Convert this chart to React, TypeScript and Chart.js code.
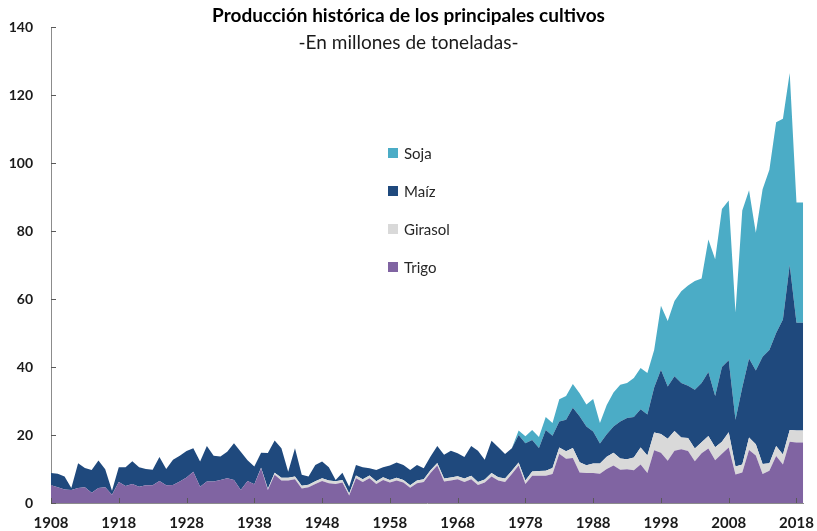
import React, { useEffect, useRef } from "react";
import { Chart, registerables } from "chart.js";

Chart.register(...registerables);

const years: string[] = [
  "1908","1909","1910","1911","1912","1913","1914","1915","1916","1917",
  "1918","1919","1920","1921","1922","1923","1924","1925","1926","1927",
  "1928","1929","1930","1931","1932","1933","1934","1935","1936","1937",
  "1938","1939","1940","1941","1942","1943","1944","1945","1946","1947",
  "1948","1949","1950","1951","1952","1953","1954","1955","1956","1957",
  "1958","1959","1960","1961","1962","1963","1964","1965","1966","1967",
  "1968","1969","1970","1971","1972","1973","1974","1975","1976","1977",
  "1978","1979","1980","1981","1982","1983","1984","1985","1986","1987",
  "1988","1989","1990","1991","1992","1993","1994","1995","1996","1997",
  "1998","1999","2000","2001","2002","2003","2004","2005","2006","2007",
  "2008","2009","2010","2011","2012","2013","2014","2015","2016","2017",
  "2018","2019",
];

const tickYears: string[] = ["1908","1918","1928","1938","1948","1958","1968","1978","1988","1998","2008","2018"];

const trigo: number[] = [
  5.2, 4.6, 4.0, 3.8, 4.4, 4.6, 3.0, 4.4, 4.6, 2.4,
  6.2, 5.0, 5.6, 4.8, 5.2, 5.2, 6.5, 5.2, 5.3, 6.3,
  7.5, 9.2, 4.8, 6.3, 6.3, 6.8, 7.3, 6.8, 3.8, 6.5,
  5.5, 10.2, 3.8, 8.3, 6.6, 6.6, 7.0, 4.3, 4.6, 5.6,
  6.5, 5.8, 5.6, 6.0, 2.2, 7.3, 6.2, 7.3, 5.6, 6.8,
  6.0, 6.6, 6.0, 4.5, 5.8, 6.2, 8.8, 11.0, 6.3, 6.6,
  7.0, 6.2, 7.0, 5.3, 6.0, 7.8, 6.6, 6.2, 8.5, 11.0,
  5.6, 8.0, 8.0, 8.0, 8.5, 14.5, 13.0, 13.2, 9.0, 8.8,
  8.8, 8.6, 10.0, 11.0, 9.8, 9.9, 9.6, 11.3, 8.8, 15.5,
  14.8, 12.4, 15.4, 15.8, 15.3, 12.3, 14.6, 16.0, 12.6, 14.5,
  16.3, 8.4, 9.0, 15.6, 14.0, 8.5, 9.5, 13.8, 11.3, 18.0,
  17.8, 17.8,
];

const girasol: number[] = [
  0, 0, 0, 0, 0, 0, 0, 0, 0, 0,
  0, 0, 0, 0, 0, 0, 0, 0, 0, 0,
  0, 0, 0, 0, 0, 0, 0, 0, 0, 0,
  0, 0.2, 0.4, 0.6, 0.8, 0.8, 0.8, 0.8, 0.8, 0.8,
  0.8, 0.8, 0.8, 0.8, 0.6, 0.8, 0.8, 0.8, 0.8, 0.8,
  0.8, 0.8, 0.8, 0.7, 0.8, 0.8, 0.8, 0.8, 0.9, 0.9,
  0.9, 1.0, 1.0, 0.9, 0.9, 1.0, 1.0, 1.0, 1.0, 0.9,
  1.0, 1.3, 1.4, 1.5, 1.8, 1.8, 2.2, 3.0, 3.0, 2.3,
  2.8, 3.0, 3.6, 3.8, 3.3, 3.0, 3.8, 5.0, 5.2, 5.2,
  5.5, 6.5, 5.8, 3.5, 3.8, 3.7, 3.3, 3.7, 3.8, 3.5,
  4.5, 2.3, 2.3, 3.7, 3.3, 3.0, 2.2, 3.0, 3.0, 3.5,
  3.5, 3.5,
];

const maiz: number[] = [
  3.6, 4.0, 3.8, 0.6, 7.3, 5.7, 6.7, 8.1, 5.3, 1.2,
  4.3, 5.5, 6.7, 5.7, 4.8, 4.6, 7.0, 4.8, 7.4, 7.6,
  7.8, 6.9, 7.4, 10.5, 7.6, 6.9, 7.8, 10.8, 11.3, 6.1,
  5.2, 4.4, 10.5, 9.5, 8.7, 1.8, 8.3, 3.2, 2.4, 4.8,
  4.9, 3.9, 0.4, 2.1, 2.0, 3.1, 3.5, 2.1, 3.3, 2.9,
  4.2, 4.5, 4.4, 4.5, 4.6, 3.2, 4.1, 5.0, 7.0, 7.9,
  6.7, 6.3, 8.8, 9.2, 5.8, 9.5, 8.8, 7.2, 6.6, 8.1,
  11.0, 9.2, 6.8, 12.0, 9.5, 7.7, 9.3, 11.8, 13.5, 11.4,
  9.4, 5.9, 6.6, 7.7, 10.9, 12.1, 11.9, 11.3, 12.0, 13.3,
  18.9, 15.4, 16.1, 16.0, 15.4, 17.3, 17.4, 18.8, 15.1, 22.0,
  21.2, 13.8, 22.7, 23.2, 21.7, 31.5, 33.3, 33.2, 39.7, 48.5,
  31.7, 31.7,
];

const soja: number[] = [
  0, 0, 0, 0, 0, 0, 0, 0, 0, 0,
  0, 0, 0, 0, 0, 0, 0, 0, 0, 0,
  0, 0, 0, 0, 0, 0, 0, 0, 0, 0,
  0, 0, 0, 0, 0, 0, 0, 0, 0, 0,
  0, 0, 0, 0, 0, 0, 0, 0, 0, 0,
  0, 0, 0, 0, 0, 0, 0, 0, 0, 0,
  0, 0, 0, 0, 0, 0, 0, 0, 0, 1.3,
  2.0, 3.0, 3.2, 3.8, 3.7, 6.5, 7.0, 7.0, 6.8, 6.5,
  9.6, 6.0, 8.6, 10.0, 10.8, 10.3, 11.5, 12.1, 12.2, 11.0,
  18.8, 19.2, 22.1, 27.0, 29.5, 32.0, 30.7, 39.0, 40.2, 46.5,
  47.0, 31.5, 52.0, 49.5, 40.5, 49.3, 53.0, 62.0, 59.0, 56.5,
  35.4, 35.4,
];

const seriesNames: string[] = ["Trigo", "Girasol", "Maíz", "Soja"];
const seriesColors: string[] = ["#8064A2", "#D9D9D9", "#1F497D", "#4BACC6"];
const seriesData: number[][] = [trigo, girasol, maiz, soja];

const titleText = "Producción histórica de los principales cultivos";
const subtitleText = "-En millones de toneladas-";

const FONT = "Lato, 'Open Sans', sans-serif";

const innerTicks = {
  id: "innerTicks",
  afterDatasetsDraw(chart: any) {
    const { ctx, chartArea, scales } = chart;
    ctx.save();
    ctx.strokeStyle = "#595959";
    ctx.lineWidth = 1;
    scales.y.ticks.forEach((t: any) => {
      const y = Math.round(scales.y.getPixelForValue(t.value)) + 0.5;
      ctx.beginPath();
      ctx.moveTo(chartArea.left, y);
      ctx.lineTo(chartArea.left + 5, y);
      ctx.stroke();
    });
    years.forEach((yr, i) => {
      if (!tickYears.includes(yr)) return;
      const x = Math.round(scales.x.getPixelForValue(i)) + 0.5;
      ctx.beginPath();
      ctx.moveTo(x, chartArea.bottom);
      ctx.lineTo(x, chartArea.bottom - 5);
      ctx.stroke();
    });
    ctx.restore();
  },
};

export default function App() {
  const canvasRef = useRef<HTMLCanvasElement | null>(null);

  useEffect(() => {
    const canvas = canvasRef.current;
    if (!canvas) return;
    const chart = new Chart(canvas, {
      type: "line",
      data: {
        labels: years,
        datasets: seriesNames.map((name, i) => ({
          label: name,
          data: seriesData[i],
          backgroundColor: seriesColors[i],
          borderColor: seriesColors[i],
          borderWidth: 0,
          pointRadius: 0,
          pointHoverRadius: 0,
          tension: 0,
          fill: i === 0 ? "origin" : "-1",
        })),
      },
      options: {
        animation: false,
        responsive: false,
        devicePixelRatio: 1,
        events: [],
        layout: { padding: { left: 0, right: 13, top: 27, bottom: 0 } },
        plugins: {
          legend: { display: false },
          title: { display: false },
          tooltip: { enabled: false },
        },
        scales: {
          x: {
            type: "category",
            offset: false,
            grid: { display: false },
            border: { display: true, color: "#8c8c8c", width: 1 },
            ticks: {
              autoSkip: false,
              maxRotation: 0,
              minRotation: 0,
              padding: 3,
              color: "#1a1a1a",
              font: { family: FONT, size: 15, weight: "bold" },
              callback: (_v: any, idx: number) =>
                tickYears.includes(years[idx]) ? years[idx] : null,
            },
            afterFit: (scale: any) => {
              scale.height = 28;
            },
          },
          y: {
            stacked: true,
            min: 0,
            max: 140,
            grid: { display: false },
            border: { display: true, color: "#8c8c8c", width: 1 },
            ticks: {
              stepSize: 20,
              padding: 10,
              color: "#1a1a1a",
              font: { family: FONT, size: 14, weight: "bold" },
            },
            afterFit: (scale: any) => {
              scale.width = 51;
            },
          },
        },
      },
      plugins: [innerTicks],
    });
    return () => chart.destroy();
  }, []);

  const legendOrder = [3, 2, 1, 0];

  return (
    <div
      style={{
        position: "absolute",
        left: 0,
        top: 0,
        width: 817,
        height: 531,
        background: "#ffffff",
        fontFamily: FONT,
      }}
    >
      <canvas
        ref={canvasRef}
        width={817}
        height={531}
        style={{ display: "block", width: 817, height: 531 }}
      />
      <div
        style={{
          position: "absolute",
          left: 0,
          top: 4,
          width: 817,
          textAlign: "center",
          fontWeight: "bold",
          fontSize: 19,
          color: "#000",
          lineHeight: "22px",
        }}
      >
        {titleText}
      </div>
      <div
        style={{
          position: "absolute",
          left: 0,
          top: 31,
          width: 817,
          textAlign: "center",
          fontSize: 19,
          color: "#1a1a1a",
          lineHeight: "22px",
        }}
      >
        {subtitleText}
      </div>
      {legendOrder.map((si, k) => (
        <div
          key={seriesNames[si]}
          style={{
            position: "absolute",
            left: 388,
            top: 144 + k * 38,
            height: 18,
            display: "flex",
            alignItems: "center",
            fontSize: 15,
            color: "#262626",
          }}
        >
          <span
            style={{
              display: "inline-block",
              width: 10,
              height: 10,
              background: seriesColors[si],
              marginRight: 6,
            }}
          />
          <span>{seriesNames[si]}</span>
        </div>
      ))}
    </div>
  );
}
